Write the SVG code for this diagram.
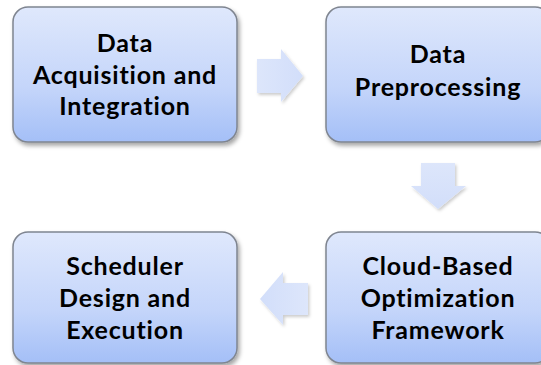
<svg xmlns="http://www.w3.org/2000/svg" width="541" height="365" viewBox="0 0 541 365">
<defs>
<linearGradient id="boxg" x1="0" y1="0" x2="0" y2="1">
<stop offset="0" stop-color="#dfe8fc"/>
<stop offset="0.6" stop-color="#c4d5fa"/>
<stop offset="1" stop-color="#a4bff7"/>
</linearGradient>
<linearGradient id="arrR" x1="0" y1="0" x2="1" y2="0">
<stop offset="0" stop-color="#dde6fb"/>
<stop offset="1" stop-color="#d2defa"/>
</linearGradient>
<linearGradient id="arrD" x1="0" y1="0" x2="0" y2="1">
<stop offset="0" stop-color="#dde6fb"/>
<stop offset="1" stop-color="#d2defa"/>
</linearGradient>
<linearGradient id="arrL" x1="1" y1="0" x2="0" y2="0">
<stop offset="0" stop-color="#dde6fb"/>
<stop offset="1" stop-color="#d2defa"/>
</linearGradient>
<filter id="sh" x="-20%" y="-20%" width="140%" height="140%">
<feDropShadow dx="2" dy="3" stdDeviation="2" flood-color="#000" flood-opacity="0.35"/>
</filter>
<filter id="ash" x="-30%" y="-30%" width="160%" height="160%">
<feDropShadow dx="1.5" dy="2" stdDeviation="1.8" flood-color="#000" flood-opacity="0.2"/>
</filter>
</defs>
<style>
.box{fill:url(#boxg);stroke:#7f8590;stroke-width:1.5;filter:url(#sh)}
.t{font-family:Lato,"Open Sans","Liberation Sans",sans-serif;font-weight:bold;font-size:25px;letter-spacing:0.8px;font-variant-ligatures:none;fill:#000;text-anchor:middle}
</style>
<rect width="541" height="365" fill="#fff"/>
<g id="connectors">
<path d="M257,59 H281 V49 L303,76 L281,102 V93 H257 Z" fill="url(#arrR)" filter="url(#ash)"/>
<path d="M421,163 H455 V186 H466 L438,209 L411,186 H421 Z" fill="url(#arrD)" filter="url(#ash)"/>
<path d="M308,283 H283 V272 L260,299 L283,325 V315 H308 Z" fill="url(#arrL)" filter="url(#ash)"/>
</g>
<g id="n1">
<rect class="box" x="13" y="7" width="224" height="135" rx="15"/>
<text class="t" x="125" y="52">Data</text>
<text class="t" x="125" y="84">Acquisition and</text>
<text class="t" x="125" y="115">Integration</text>
</g>
<g id="n2">
<rect class="box" x="326" y="7" width="224" height="135" rx="15"/>
<text class="t" x="438" y="63">Data</text>
<text class="t" x="438" y="96">Preprocessing</text>
</g>
<g id="n3">
<rect class="box" x="13" y="232" width="224" height="131" rx="15"/>
<text class="t" x="125" y="275">Scheduler</text>
<text class="t" x="125" y="307">Design and</text>
<text class="t" x="125" y="339">Execution</text>
</g>
<g id="n4">
<rect class="box" x="326" y="232" width="224" height="131" rx="15"/>
<text class="t" x="438" y="275">Cloud-Based</text>
<text class="t" x="438" y="307">Optimization</text>
<text class="t" x="438" y="339">Framework</text>
</g>
</svg>
